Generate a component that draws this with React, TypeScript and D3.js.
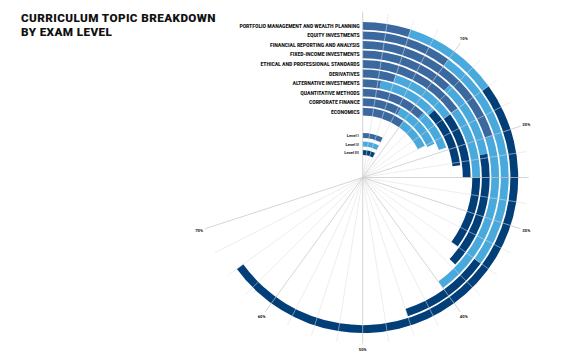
import * as d3 from 'd3';

// topics from the outer ring to the inner ring
const topics = [
  'PORTFOLIO MANAGEMENT AND WEALTH PLANNING',
  'EQUITY INVESTMENTS',
  'FINANCIAL REPORTING AND ANALYSIS',
  'FIXED-INCOME INVESTMENTS',
  'ETHICAL AND PROFESSIONAL STANDARDS',
  'DERIVATIVES',
  'ALTERNATIVE INVESTMENTS',
  'QUANTITATIVE METHODS',
  'CORPORATE FINANCE',
  'ECONOMICS',
];
const levels = ['Level I', 'Level II', 'Level III'];
// exam weight (%) per topic, same order as topics
const levelI = [5, 10, 20, 12, 15, 5, 3, 12, 8, 10];
const levelII = [10, 25, 20, 10, 10, 10, 10, 7.5, 10, 7.5];
const levelIII = [50, 10, 0, 15, 10, 10, 10, 0, 0, 0];
const pctTicks = [10, 20, 30, 40, 50, 60, 70];

const colors = ['#3b699f', '#4aa9dc', '#023f79'];

const width = 574;
const height = 361;
const cx = 362.7;
const cy = 177.5;

export default function App() {
  const angle = d3.scaleLinear().domain([0, 100]).range([0, 2 * Math.PI]);
  const ring = d3
    .scaleBand<string>()
    .domain([...topics].reverse())
    .range([62, 155.5])
    .paddingInner(0.18);
  const legendRing = d3
    .scaleBand<string>()
    .domain([...levels].reverse())
    .range([22.5, 44.5])
    .paddingInner(0.41);
  const arc = d3.arc<any>();

  const series = [levelI, levelII, levelIII];
  const segments: any[] = [];
  topics.forEach((t, i) => {
    let start = 0;
    series.forEach((s, li) => {
      const v = s[i];
      if (v > 0) segments.push({ topic: t, level: li, start, end: start + v });
      start += v;
    });
  });

  // radial grid every 2.5% from 0 to 70%
  const grid = d3.range(0, 70.01, 2.5);
  const gridR = 166;
  const labelR = 172;

  const pt = (p: number, r: number) => {
    const a = angle(p);
    return [cx + r * Math.sin(a), cy - r * Math.cos(a)];
  };

  return (
    <svg width={width} height={height} style={{ position: 'absolute', left: 0, top: 0 }}>
      <rect width={width} height={height} fill='#fff' />
      <text x={21} y={22} fontFamily='Roboto, sans-serif' fontWeight={900} fontSize={11.7} letterSpacing={0.4} fill='#111'>
        CURRICULUM TOPIC BREAKDOWN
      </text>
      <text x={21} y={35.5} fontFamily='Roboto, sans-serif' fontWeight={900} fontSize={11.7} letterSpacing={0.4} fill='#111'>
        BY EXAM LEVEL
      </text>

      <g transform={`translate(${cx},${cy})`}>
        {segments.map((d, i) => (
          <path
            key={i}
            fill={colors[d.level]}
            d={
              arc({
                innerRadius: ring(d.topic)!,
                outerRadius: ring(d.topic)! + ring.bandwidth(),
                startAngle: angle(d.start),
                endAngle: angle(d.end),
              })!
            }
          />
        ))}
        {levels.map((l, i) => (
          <path
            key={l}
            fill={colors[i]}
            d={
              arc({
                innerRadius: legendRing(l)!,
                outerRadius: legendRing(l)! + legendRing.bandwidth(),
                startAngle: 0,
                endAngle: angle(7.5),
              })!
            }
          />
        ))}
      </g>

      {grid.map((p) => {
        const major = p % 10 === 0 || p === 25;
        const [x2, y2] = pt(p, gridR);
        return (
          <line
            key={p}
            x1={cx}
            y1={cy}
            x2={x2}
            y2={y2}
            stroke={major ? '#c4c4c4' : '#dedede'}
            strokeOpacity={0.9}
            strokeWidth={major ? 0.8 : 0.6}
          />
        );
      })}

      {pctTicks.map((p) => {
        const [x, y] = pt(p, labelR);
        return (
          <text key={p} x={x} y={y + 1.5} textAnchor='middle' fontFamily='Roboto, sans-serif' fontWeight={700} fontSize={4.2} fill='#111'>
            {p}%
          </text>
        );
      })}

      {topics.map((t) => (
        <text
          key={t}
          x={cx - 3}
          y={cy - ring(t)! - ring.bandwidth() / 2 + 2}
          textAnchor='end'
          fontFamily='"Liberation Sans Narrow", "Roboto Condensed", sans-serif'
          fontWeight={700}
          fontSize={5.9}
          letterSpacing={-0.1}
          fill='#111'
        >
          {t}
        </text>
      ))}
      {levels.map((l) => (
        <text
          key={l}
          x={cx - 4}
          y={cy - legendRing(l)! - legendRing.bandwidth() / 2 + 1.6}
          textAnchor='end'
          fontFamily='Roboto, sans-serif'
          fontWeight={700}
          fontSize={4.1}
          fill='#111'
        >
          {l}
        </text>
      ))}
    </svg>
  );
}
